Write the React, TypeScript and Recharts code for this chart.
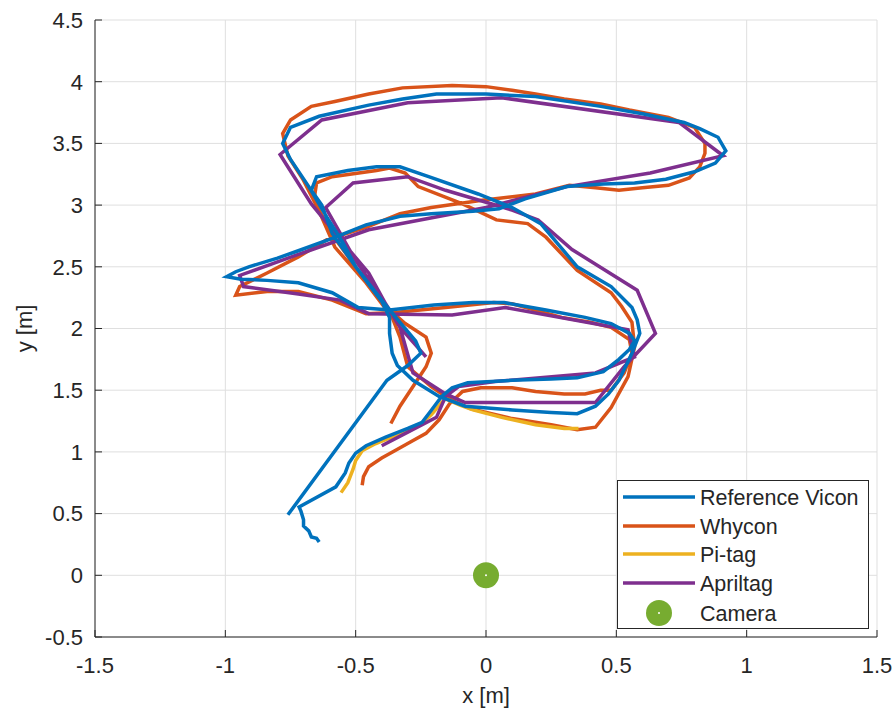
import { ScatterChart, Scatter, XAxis, YAxis, CartesianGrid, Legend, Label } from 'recharts';

const xTicks = [-1.5, -1, -0.5, 0, 0.5, 1, 1.5];
const yTicks = [-0.5, 0, 0.5, 1, 1.5, 2, 2.5, 3, 3.5, 4, 4.5];

// trajectories, [x, y] in metres
const vicon = [
  [-0.64, 0.27], [-0.65, 0.3], [-0.67, 0.31], [-0.68, 0.36], [-0.7, 0.4], [-0.7, 0.45], [-0.71, 0.52],
  [-0.717, 0.553], [-0.576, 0.717], [-0.54, 0.83], [-0.526, 0.91], [-0.5, 0.99], [-0.46, 1.05],
  [-0.385, 1.12], [-0.3, 1.19], [-0.245, 1.24], [-0.209, 1.34], [-0.17, 1.45], [-0.13, 1.52],
  [-0.07, 1.56], [0.1, 1.58], [0.25, 1.59], [0.35, 1.6], [0.45, 1.65], [0.51, 1.75], [0.55, 1.83],
  [0.57, 1.9], [0.55, 1.96], [0.48, 2.04], [0.38, 2.09], [0.23, 2.15], [0.07, 2.21], [-0.05, 2.21],
  [-0.2, 2.19], [-0.37, 2.15], [-0.49, 2.17], [-0.59, 2.29], [-0.72, 2.37], [-0.84, 2.39],
  [-0.94, 2.4], [-0.995, 2.42], [-0.96, 2.46], [-0.91, 2.5], [-0.8, 2.57], [-0.72, 2.63],
  [-0.59, 2.73], [-0.46, 2.84], [-0.33, 2.91], [-0.21, 2.93], [-0.05, 2.95], [0.05, 2.97],
  [0.15, 3.05], [0.31, 3.15], [0.45, 3.17], [0.57, 3.18], [0.69, 3.21], [0.8, 3.27], [0.88, 3.34],
  [0.92, 3.44], [0.89, 3.55], [0.82, 3.62], [0.76, 3.67], [0.6, 3.74], [0.44, 3.8], [0.19, 3.88],
  [0.0, 3.9], [-0.19, 3.9], [-0.32, 3.86], [-0.45, 3.81], [-0.64, 3.72], [-0.75, 3.63],
  [-0.78, 3.5], [-0.75, 3.37], [-0.68, 3.15], [-0.61, 2.9], [-0.55, 2.7], [-0.5, 2.5],
  [-0.44, 2.33], [-0.4, 2.22], [-0.37, 2.09], [-0.37, 1.96], [-0.36, 1.8], [-0.34, 1.7],
  [-0.28, 1.58], [-0.18, 1.45], [-0.08, 1.37], [0.1, 1.34], [0.25, 1.32], [0.35, 1.31],
  [0.42, 1.37], [0.47, 1.47], [0.51, 1.58], [0.56, 1.8], [0.59, 1.96], [0.58, 2.07], [0.56, 2.17],
  [0.48, 2.34], [0.35, 2.5], [0.27, 2.7], [0.21, 2.85], [0.1, 2.98], [-0.03, 3.09], [-0.22, 3.23],
  [-0.33, 3.31], [-0.42, 3.31], [-0.53, 3.28], [-0.65, 3.23], [-0.67, 3.12], [-0.63, 3.0],
  [-0.59, 2.77], [-0.5, 2.5], [-0.4, 2.23], [-0.33, 2.05], [-0.27, 1.9], [-0.25, 1.8],
  [-0.3, 1.7], [-0.38, 1.58], [-0.76, 0.49],
];

const whycon = [
  [-0.475, 0.73], [-0.47, 0.8], [-0.45, 0.88], [-0.4, 0.95], [-0.35, 1.01], [-0.29, 1.08],
  [-0.23, 1.15], [-0.18, 1.26], [-0.14, 1.39], [-0.09, 1.49], [-0.02, 1.52], [0.1, 1.52],
  [0.19, 1.49], [0.3, 1.47], [0.38, 1.47], [0.44, 1.5], [0.48, 1.5], [0.53, 1.64], [0.56, 1.8],
  [0.55, 1.91], [0.48, 2.01], [0.4, 2.05], [0.29, 2.09], [0.1, 2.2], [0.03, 2.21], [-0.155, 2.17],
  [-0.35, 2.13], [-0.46, 2.12], [-0.59, 2.23], [-0.72, 2.3], [-0.84, 2.3], [-0.96, 2.27],
  [-0.945, 2.34], [-0.84, 2.45], [-0.72, 2.58], [-0.61, 2.72], [-0.46, 2.82], [-0.33, 2.93],
  [-0.21, 2.98], [-0.015, 3.04], [0.11, 3.07], [0.19, 3.09], [0.32, 3.16], [0.42, 3.14],
  [0.51, 3.12], [0.6, 3.14], [0.7, 3.16], [0.78, 3.22], [0.82, 3.31], [0.84, 3.42], [0.84, 3.5],
  [0.8, 3.63], [0.7, 3.71], [0.55, 3.77], [0.44, 3.82], [0.3, 3.86], [0.19, 3.9], [0.1, 3.93],
  [0.0, 3.96], [-0.13, 3.97], [-0.32, 3.95], [-0.45, 3.9], [-0.58, 3.84], [-0.67, 3.8],
  [-0.75, 3.69], [-0.78, 3.58], [-0.76, 3.4], [-0.7, 3.2], [-0.64, 2.95], [-0.58, 2.66],
  [-0.46, 2.37], [-0.36, 2.09], [-0.33, 1.93], [-0.3, 1.69], [-0.21, 1.53], [-0.15, 1.44],
  [-0.06, 1.35], [0.1, 1.27], [0.25, 1.22], [0.35, 1.18], [0.42, 1.2], [0.48, 1.36],
  [0.545, 1.61], [0.57, 1.85], [0.56, 2.05], [0.52, 2.18], [0.48, 2.29], [0.35, 2.47],
  [0.23, 2.74], [0.16, 2.85], [0.04, 2.88], [-0.09, 3.01], [-0.26, 3.15], [-0.31, 3.26],
  [-0.37, 3.3], [-0.42, 3.28], [-0.59, 3.23], [-0.65, 3.18], [-0.66, 3.04], [-0.59, 2.76],
  [-0.49, 2.47], [-0.38, 2.17], [-0.31, 2.04], [-0.23, 1.93], [-0.21, 1.8], [-0.23, 1.69],
  [-0.28, 1.53], [-0.33, 1.37], [-0.365, 1.23],
];

const piTag = [
  [-0.556, 0.67], [-0.53, 0.75], [-0.51, 0.86], [-0.5, 0.93], [-0.475, 1.01], [-0.43, 1.06],
  [-0.385, 1.1], [-0.32, 1.15], [-0.26, 1.21], [-0.21, 1.3], [-0.17, 1.4], [-0.155, 1.43],
  [-0.1, 1.38], [-0.05, 1.34], [0.06, 1.28], [0.19, 1.22], [0.3, 1.19], [0.355, 1.19],
];

const aprilTag = [
  [-0.4, 1.05], [-0.3, 1.16], [-0.19, 1.28], [-0.155, 1.45], [-0.105, 1.53], [0.035, 1.57],
  [0.42, 1.64], [0.57, 1.77], [0.545, 1.99], [0.074, 2.17], [-0.13, 2.11], [-0.45, 2.12],
  [-0.56, 2.23], [-0.72, 2.28], [-0.93, 2.34], [-0.945, 2.43], [-0.72, 2.6], [-0.45, 2.8],
  [0.0, 2.98], [0.31, 3.15], [0.63, 3.26], [0.91, 3.4], [0.74, 3.67], [0.06, 3.87],
  [-0.3, 3.83], [-0.63, 3.69], [-0.79, 3.41], [-0.67, 3.01], [-0.55, 2.7], [-0.45, 2.45],
  [-0.385, 2.2], [-0.33, 2.01], [-0.28, 1.64], [-0.155, 1.47], [-0.08, 1.4], [0.42, 1.4],
  [0.53, 1.69], [0.65, 1.96], [0.58, 2.31], [0.33, 2.64], [0.2, 2.88], [0.1, 2.96],
  [-0.155, 3.12], [-0.3, 3.23], [-0.51, 3.18], [-0.615, 2.98], [-0.5, 2.55], [-0.385, 2.2],
  [-0.33, 2.01], [-0.23, 1.77],
];

const camera = [[0, 0]];

const series = [
  { name: 'Reference Vicon', color: '#0072BD' },
  { name: 'Whycon', color: '#D95319' },
  { name: 'Pi-tag', color: '#EDB120' },
  { name: 'Apriltag', color: '#7E2F8E' },
];

const toPoints = (pts: number[][]) => pts.map(([x, y]) => ({ x, y }));

const FONT = '"Liberation Sans", Arial, sans-serif';
const INK = '#262626';
const LW = 3.5;

const NoDot = () => <g />;

const CameraDot = (props: any) => (
  <g>
    <circle cx={props.cx} cy={props.cy} r={13} fill="#77AC30" />
    <circle cx={props.cx} cy={props.cy} r={1} fill="#ffffff" />
  </g>
);

const LegendBox = () => {
  const rows = [17, 46, 74, 103];
  return (
    <svg width={252} height={149} style={{ display: 'block' }}>
      <rect x={0.5} y={0.5} width={251} height={148} fill="#ffffff" stroke={INK} strokeWidth={1} />
      {series.map((s, i) => (
        <g key={s.name}>
          <line x1={6} x2={78} y1={rows[i]} y2={rows[i]} stroke={s.color} strokeWidth={LW} />
          <text x={83} y={rows[i] + 7.5} fontSize={21.5} fill={INK} fontFamily={FONT}>{s.name}</text>
        </g>
      ))}
      <circle cx={42} cy={133} r={13} fill="#77AC30" />
      <circle cx={42} cy={133} r={1} fill="#ffffff" />
      <text x={83} y={140.5} fontSize={21.5} fill={INK} fontFamily={FONT}>Camera</text>
    </svg>
  );
};

export default function App() {
  return (
    <div style={{ position: 'absolute', left: 0, top: 0, background: '#ffffff' }}>
      <ScatterChart
        width={895}
        height={708}
        margin={{ top: 20, right: 18, bottom: 0, left: 0 }}
        style={{ fontFamily: FONT }}
      >
        <CartesianGrid stroke="#dfdfdf" strokeWidth={1} />
        <XAxis
          type="number"
          dataKey="x"
          domain={[-1.5, 1.5]}
          ticks={xTicks}
          interval={0}
          height={71}
          stroke={INK}
          tickSize={-7}
          tickMargin={27}
          tick={{ fill: INK, fontSize: 22 }}
        >
          <Label value="x [m]" position="insideBottom" offset={5} fill={INK} fontSize={22} />
        </XAxis>
        <YAxis
          type="number"
          dataKey="y"
          domain={[-0.5, 4.5]}
          ticks={yTicks}
          interval={0}
          width={95}
          stroke={INK}
          tickSize={-7}
          tickMargin={19}
          tick={{ fill: INK, fontSize: 22 }}
        >
          <Label
            value="y [m]"
            angle={-90}
            position="insideLeft"
            offset={24}
            fill={INK}
            fontSize={22}
            style={{ textAnchor: 'middle' }}
          />
        </YAxis>
        <Scatter name="Whycon" data={toPoints(whycon)} fill={series[1].color} line={{ stroke: series[1].color, strokeWidth: LW }} lineJointType="linear" shape={NoDot} isAnimationActive={false} />
        <Scatter name="Pi-tag" data={toPoints(piTag)} fill={series[2].color} line={{ stroke: series[2].color, strokeWidth: LW }} lineJointType="linear" shape={NoDot} isAnimationActive={false} />
        <Scatter name="Apriltag" data={toPoints(aprilTag)} fill={series[3].color} line={{ stroke: series[3].color, strokeWidth: LW }} lineJointType="linear" shape={NoDot} isAnimationActive={false} />
        <Scatter name="Reference Vicon" data={toPoints(vicon)} fill={series[0].color} line={{ stroke: series[0].color, strokeWidth: LW }} lineJointType="linear" shape={NoDot} isAnimationActive={false} />
        <Scatter name="Camera" data={toPoints(camera)} fill="#77AC30" shape={CameraDot} isAnimationActive={false} />
        <Legend
          layout="horizontal"
          verticalAlign="middle"
          align="center"
          content={LegendBox}
          wrapperStyle={{ left: 617, top: 480, width: 252, height: 149 }}
        />
      </ScatterChart>
    </div>
  );
}
